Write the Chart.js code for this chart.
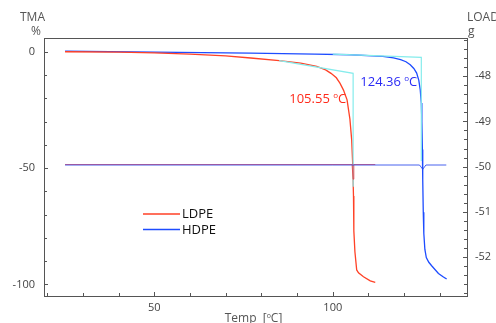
<!DOCTYPE html>
<html>
<head>
<meta charset="utf-8">
<script src="https://cdn.jsdelivr.net/npm/chart.js@4"></script>
<style>
  html, body { margin: 0; padding: 0; background: #fff; }
  #wrap { width: 496px; height: 323px; }
</style>
</head>
<body>
<div id="wrap"><canvas id="tmaChart" width="496" height="323"></canvas></div>
<script>
// TMA (%) curves
const ldpeTemp = [25, 40, 50, 60, 70, 77, 85, 91, 95.5, 98, 99.5, 101, 102, 103, 104, 104.8, 105.3, 105.6, 105.8, 105.9, 106.2, 106.7, 107.2, 108.6, 110.5, 111.9];
const ldpeTma  = [0, -0.2, -0.5, -1.0, -1.8, -2.7, -3.8, -4.9, -6.3, -7.8, -9.3, -11.2, -13.5, -16.5, -20.7, -29, -38, -49, -62, -77, -86, -93.8, -95, -96.7, -98.5, -99.1];
const hdpeTemp = [25, 50, 77, 95, 105, 114, 117, 119, 120.5, 121.7, 122.7, 123.5, 124.1, 124.5, 124.8, 124.95, 125.1, 125.2, 125.35, 125.5, 125.8, 126.2, 126.9, 127.7, 129.6, 131, 131.9];
const hdpeTma  = [0.3, -0.2, -0.6, -1.0, -1.3, -2.0, -2.6, -3.4, -4.3, -5.6, -7.2, -9.2, -12.3, -16.4, -22, -30, -42, -55, -69, -78, -85, -88.5, -90.5, -92, -95.3, -96.8, -97.7];

// onset construction lines
const ldpeOnsetTemp = [85, 105.7, 105.7];
const ldpeOnsetTma  = [-3.8, -9.3, -58];
const hdpeOnsetTemp = [100, 124.8, 124.8];
const hdpeOnsetTma  = [-1.0, -2.4, -47];

// LOAD (g) curves
const ldpeLoadTemp = [25, 60, 90, 105.4, 105.7, 105.9, 111.9];
const ldpeLoad     = [-49.955, -49.955, -49.955, -49.955, -50.28, -49.955, -49.955];
const hdpeLoadTemp = [25, 60, 100, 124.3, 125.2, 126.1, 131.8];
const hdpeLoad     = [-49.966, -49.966, -49.966, -49.966, -50.06, -49.966, -49.966];

const onsetLabels = ['105.55', '124.36'];
const seriesNames = ['LDPE', 'HDPE'];

const RED = '#ff4126';
const BLUE = '#1d4cff';
const CYAN = '#86ecec';
const AXIS = '#555';
const FONT = "'Open Sans', 'DejaVu Sans', sans-serif";

function pts(xs, ys) {
  return xs.map((x, i) => ({ x: x, y: ys[i] }));
}

// draws "text ºC" with a small raised o
function degText(ctx, x, y, before, after, size, color) {
  ctx.save();
  ctx.fillStyle = color;
  ctx.textBaseline = 'alphabetic';
  ctx.textAlign = 'left';
  ctx.font = size + 'px ' + FONT;
  ctx.fillText(before, x, y);
  let cx = x + ctx.measureText(before).width;
  ctx.font = Math.round(size * 0.62) + 'px ' + FONT;
  ctx.fillText('o', cx, y - size * 0.35);
  cx += ctx.measureText('o').width;
  ctx.font = size + 'px ' + FONT;
  ctx.fillText(after, cx, y);
  ctx.restore();
}
function degWidth(ctx, before, after, size) {
  ctx.save();
  ctx.font = size + 'px ' + FONT;
  let w = ctx.measureText(before).width + ctx.measureText(after).width;
  ctx.font = Math.round(size * 0.62) + 'px ' + FONT;
  w += ctx.measureText('o').width;
  ctx.restore();
  return w;
}

const decorPlugin = {
  id: 'decor',
  afterDraw(chart) {
    const ctx = chart.ctx;
    const a = chart.chartArea;
    const sx = chart.scales.x, sy = chart.scales.y, sy2 = chart.scales.y2;
    ctx.save();
    // frame
    ctx.strokeStyle = AXIS;
    ctx.lineWidth = 1;
    ctx.strokeRect(Math.round(a.left) + 0.5, Math.round(a.top) + 0.5, Math.round(a.right - a.left), Math.round(a.bottom - a.top));

    // inward ticks
    ctx.beginPath();
    sx.ticks.forEach(t => {
      const px = Math.round(sx.getPixelForValue(t.value)) + 0.5;
      const len = t.value % 50 === 0 ? 4 : 3;
      ctx.moveTo(px, a.bottom); ctx.lineTo(px, a.bottom - len);
    });
    sy.ticks.forEach(t => {
      const py = Math.round(sy.getPixelForValue(t.value)) + 0.5;
      const len = t.value % 50 === 0 ? 4 : 3;
      ctx.moveTo(a.left, py); ctx.lineTo(a.left + len, py);
    });
    sy2.ticks.forEach(t => {
      const py = Math.round(sy2.getPixelForValue(t.value)) + 0.5;
      const major = Math.abs(t.value - Math.round(t.value)) < 0.01;
      ctx.moveTo(a.right, py); ctx.lineTo(a.right - (major ? 4 : 3), py);
    });
    ctx.stroke();

    // axis headers
    ctx.fillStyle = AXIS;
    ctx.font = '12px ' + FONT;
    ctx.textBaseline = 'middle';
    ctx.textAlign = 'left';
    ctx.fillText('TMA', 20, 18);
    ctx.fillText('%', 31, 32);
    ctx.fillText('LOAD', 467, 18);
    ctx.fillText('g', 468, 32);

    // x title
    const tw = degWidth(ctx, 'Temp  [', 'C]', 12);
    degText(ctx, (a.left + a.right) / 2 - tw / 2 - 2, 322, 'Temp  [', 'C]', 12, AXIS);

    // onset labels
    degText(ctx, sx.getPixelForValue(87.8), sy.getPixelForValue(-19.9) + 5, onsetLabels[0] + ' ', 'C', 13, '#ff2a1a');
    degText(ctx, sx.getPixelForValue(107.7), sy.getPixelForValue(-12.6) + 5, onsetLabels[1] + ' ', 'C', 13, '#2a2af5');

    // legend
    const lx = a.left + 99, ly = a.top + 176;
    [RED, BLUE].forEach((c, i) => {
      const y = ly + i * 15.5;
      ctx.strokeStyle = c;
      ctx.lineWidth = 1.3;
      ctx.beginPath();
      ctx.moveTo(lx, y); ctx.lineTo(lx + 37, y);
      ctx.stroke();
      ctx.fillStyle = '#111';
      ctx.font = '13px ' + FONT;
      ctx.textBaseline = 'middle';
      ctx.fillText(seriesNames[i], lx + 39, y + 0.5);
    });
    ctx.restore();
  }
};

const lineDs = (data, color, axis, order, width) => ({
  data: data,
  borderColor: color,
  borderWidth: width || 1.3,
  pointRadius: 0,
  fill: false,
  tension: 0,
  yAxisID: axis,
  order: order
});

new Chart(document.getElementById('tmaChart').getContext('2d'), {
  type: 'line',
  data: {
    datasets: [
      lineDs(pts(hdpeLoadTemp, hdpeLoad), 'rgba(40,70,235,0.85)', 'y2', 0, 1),
      lineDs(pts(ldpeLoadTemp, ldpeLoad), 'rgba(230,60,70,0.8)', 'y2', 1, 1),
      lineDs(pts(ldpeOnsetTemp, ldpeOnsetTma), CYAN, 'y', 2, 1.2),
      lineDs(pts(hdpeOnsetTemp, hdpeOnsetTma), CYAN, 'y', 3, 1.2),
      lineDs(pts(ldpeTemp, ldpeTma), RED, 'y', 4),
      lineDs(pts(hdpeTemp, hdpeTma), BLUE, 'y', 5)
    ]
  },
  options: {
    responsive: false,
    animation: false,
    layout: { padding: { top: 38, left: 0, right: 0, bottom: 0 } },
    plugins: { legend: { display: false }, tooltip: { enabled: false } },
    scales: {
      x: {
        type: 'linear',
        min: 19.1,
        max: 137.6,
        grid: { display: false, drawTicks: false },
        border: { display: false },
        ticks: {
          stepSize: 10,
          includeBounds: false,
          autoSkip: false,
          maxRotation: 0,
          padding: 5,
          color: '#444',
          font: { family: FONT, size: 11 },
          callback: v => (v % 50 === 0 ? String(v) : '')
        },
        afterFit: s => { s.height = 27; }
      },
      y: {
        position: 'left',
        min: -105,
        max: 5.9,
        grid: { display: false, drawTicks: false },
        border: { display: false },
        ticks: {
          stepSize: 10,
          includeBounds: false,
          autoSkip: false,
          padding: 9,
          color: '#444',
          font: { family: FONT, size: 11 },
          callback: v => (v % 50 === 0 ? String(v) : '')
        },
        afterFit: s => { s.width = 44; }
      },
      y2: {
        position: 'right',
        min: -52.87,
        max: -47.15,
        grid: { display: false, drawTicks: false },
        border: { display: false },
        ticks: {
          stepSize: 0.2,
          includeBounds: false,
          autoSkip: false,
          padding: 8,
          color: '#444',
          font: { family: FONT, size: 11 },
          callback: v => (Math.abs(v - Math.round(v)) < 0.01 ? String(Math.round(v)) : '')
        },
        afterFit: s => { s.width = 29; }
      }
    }
  },
  plugins: [decorPlugin]
});
</script>
</body>
</html>
